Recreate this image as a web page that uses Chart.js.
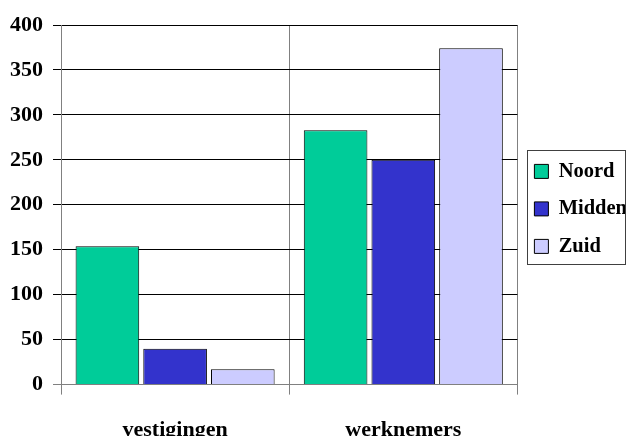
<!DOCTYPE html>
<html>
<head>
<meta charset="utf-8">
<script src="https://cdn.jsdelivr.net/npm/chart.js@4/dist/chart.umd.min.js"></script>
<style>
  html, body { margin: 0; padding: 0; background: #fff; }
  #wrap { width: 626px; height: 436px; overflow: hidden; position: relative; }
  canvas { display: block; }
</style>
</head>
<body>
<div id="wrap"><canvas id="c" width="637" height="467"></canvas></div>
<script>
// Categories and series
const categories = ['vestigingen', 'werknemers'];
const seriesNames = ['Noord', 'Midden', 'Zuid'];
const noord = [154, 283];
const midden = [40, 250];
const zuid = [17, 374];
const seriesColors = ['#00CC99', '#3333CC', '#CCCCFF'];

// Value axis
const yMin = 0;
const yMax = 400;
const yStep = 50;

const FAMILY = '"Liberation Serif", "Times New Roman", serif';
const FONT = { family: FAMILY, size: 22, weight: 'bold' };
const LEGEND_FONT = { family: FAMILY, size: 20.5, weight: 'bold' };

// Frame drawn around the legend entries
const legendFrame = {
  id: 'legendFrame',
  afterDraw(chart) {
    const lg = chart.legend;
    if (!lg || !lg.legendHitBoxes || !lg.legendHitBoxes.length) return;
    const hb = lg.legendHitBoxes;
    const first = hb[0];
    const last = hb[hb.length - 1];
    const ctx = chart.ctx;
    const left = Math.round(first.left - 7) + 0.5;
    const top = Math.round(first.top - 11) + 0.5;
    const bottom = Math.round(last.top + last.height + 7) + 0.5;
    const right = 625.5;
    ctx.save();
    ctx.strokeStyle = '#404040';
    ctx.lineWidth = 1;
    ctx.strokeRect(left, top, right - left, bottom - top);
    ctx.restore();
  }
};

const series = [noord, midden, zuid];
const datasets = seriesNames.map((name, i) => ({
  label: name,
  data: series[i],
  backgroundColor: seriesColors[i],
  borderColor: '#000',
  borderWidth: 1,
  categoryPercentage: 0.89,
  barPercentage: 0.94
}));

new Chart(document.getElementById('c'), {
  type: 'bar',
  data: { labels: categories, datasets },
  options: {
    responsive: false,
    animation: false,
    devicePixelRatio: 1,
    layout: { padding: { left: 0, top: 25, right: 0, bottom: 0 } },
    plugins: {
      legend: {
        position: 'right',
        fullSize: false,
        align: 'center',
        title: { display: true, text: ' ', font: { size: 1 }, padding: 3.5 },
        labels: {
          boxWidth: 14,
          boxHeight: 14,
          padding: 17,
          color: '#000',
          font: LEGEND_FONT
        }
      },
      tooltip: { enabled: false }
    },
    scales: {
      x: {
        grid: {
          offset: true,
          color: '#808080',
          lineWidth: 1,
          tickLength: 10,
          drawTicks: true
        },
        border: { display: true, color: '#808080' },
        ticks: { color: '#000', font: FONT, padding: 23 }
      },
      y: {
        min: yMin,
        max: yMax,
        grid: {
          color: (c) => (c.tick && c.tick.value === 0 ? '#808080' : '#000'),
          lineWidth: 1,
          tickLength: 8
        },
        border: { display: true, color: '#808080' },
        ticks: { stepSize: yStep, color: '#000', font: FONT, padding: 10 }
      }
    }
  },
  plugins: [legendFrame]
});
</script>
</body>
</html>
